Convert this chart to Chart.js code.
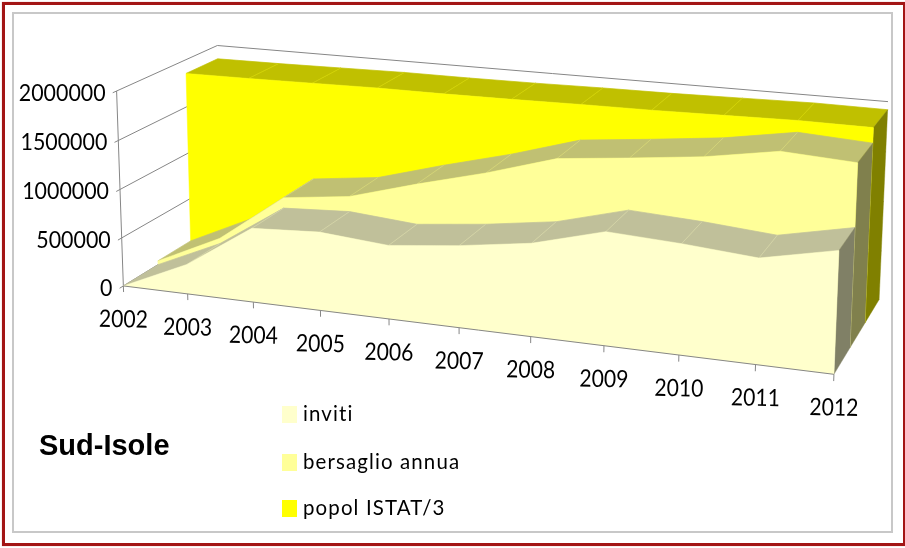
<!DOCTYPE html>
<html><head><meta charset="utf-8">
<style>
html,body{margin:0;padding:0;background:#fff;width:905px;height:548px;overflow:hidden}
#outer{position:absolute;left:2px;top:2px;width:898px;height:538px;border:3px solid #A31515;box-shadow:0 0 1px #d99}
#inner{position:absolute;left:12px;top:12px;width:877px;height:517px;border:2px solid #C8C8C8}
canvas{position:absolute;left:0;top:0}
</style></head>
<body>
<div id="outer"></div><div id="inner"></div>
<canvas id="chart" width="905" height="548"></canvas>
<script src="https://cdn.jsdelivr.net/npm/chart.js@4"></script>
<script>
const years = ['2002','2003','2004','2005','2006','2007','2008','2009','2010','2011','2012'];
const inviti = [0,305000,752000,790000,735000,811000,912000,1101000,1064000,1008000,1158000];
const bersaglio = [40000,360000,860000,945000,1143000,1325000,1536000,1610000,1690000,1810000,1770000];
const popol = [1855000,1860000,1870000,1880000,1880000,1885000,1895000,1900000,1912000,1925000,1920000];
const seriesNames = ['inviti','bersaglio annua','popol ISTAT/3'];
const faceColors = ['#FFFFCC','#FFFF99','#FFFF00'];
const topColors = ['#C0C09A','#C0C073','#C0C000'];
const sideColors = ['#808066','#80804D','#808000'];
const yMax = 2000000;
const chartTitle = 'Sud-Isole';

// Perspective camera of the 3D box: (u, v, w) in 0..1 -> screen
const H = [623.5388147,-9.0901301,117.8506543,123.3532459,49.3232342,-196.7431490,-40.5812351,285.9296553,-0.1043871,-0.0200609,0.0880206];
function project(u,v,w){
  const d = H[8]*u+H[9]*v+H[10]*w+1;
  return [(H[0]*u+H[1]*v+H[2]*w+H[3])/d,(H[4]*u+H[5]*v+H[6]*w+H[7])/d];
}
function poly(ctx,pts,fill,stroke,lw){
  ctx.beginPath();
  pts.forEach((p,i)=>i?ctx.lineTo(p[0],p[1]):ctx.moveTo(p[0],p[1]));
  ctx.closePath();
  ctx.fillStyle=fill;ctx.fill();
  if(stroke){ctx.strokeStyle=stroke;ctx.lineWidth=lw||0.6;ctx.stroke();}
}
function seg(ctx,a,b,color,lw){
  ctx.beginPath();ctx.moveTo(a[0],a[1]);ctx.lineTo(b[0],b[1]);
  ctx.strokeStyle=color;ctx.lineWidth=lw;ctx.stroke();
}
function squeezed(ctx,text,x,y,sx,rot){
  ctx.save();ctx.translate(x,y);if(rot)ctx.rotate(rot);ctx.scale(sx,1);ctx.fillText(text,0,0);ctx.restore();
}
function uOf(sx,i){return (sx.getPixelForValue(i)-sx.left)/sx.width;}
function vOf(sy,val){return (sy.bottom-sy.getPixelForValue(val))/sy.height;}

class Area3DController extends Chart.LineController {
  draw(){
    const meta=this._cachedMeta, ctx=this.chart.ctx, sx=meta.xScale, sy=meta.yScale;
    const ds=this.getDataset(), k=this.index;
    const w0=k/3, w1=(k+1)/3;
    const n=ds.data.length;
    const uv=ds.data.map((val,i)=>[uOf(sx,i),vOf(sy,val)]);
    ctx.save();
    for(let i=0;i<n-1;i++){
      const a=uv[i],b=uv[i+1];
      poly(ctx,[project(a[0],a[1],w0),project(b[0],b[1],w0),project(b[0],b[1],w1),project(a[0],a[1],w1)],topColors[k],topColors[k],0.7);
    }
    ctx.globalAlpha=0.55;
    for(let i=1;i<n-1;i++){
      seg(ctx,project(uv[i][0],uv[i][1],w0),project(uv[i][0],uv[i][1],w1),faceColors[k],0.5);
    }
    ctx.globalAlpha=1;
    const e=uv[n-1];
    poly(ctx,[project(e[0],e[1],w0),project(e[0],e[1],w1),project(e[0],0,w1),project(e[0],0,w0)],sideColors[k],sideColors[k],0.4);
    const face=uv.map(p=>project(p[0],p[1],w0));
    face.push(project(e[0],0,w0),project(uv[0][0],0,w0));
    poly(ctx,face,faceColors[k],faceColors[k],0.5);
    ctx.restore();
  }
}
Area3DController.id='area3d';
Area3DController.defaults=Chart.LineController.defaults;
Chart.register(Area3DController);

const GRID='#868686';
const walls={
  id:'walls',
  beforeDatasetsDraw(chart){
    const ctx=chart.ctx, sy=chart.scales.y;
    ctx.save();
    sy.ticks.forEach(t=>{
      const v=vOf(sy,t.value);
      seg(ctx,project(0,v,-0.035),project(0,v,1),GRID,1);
      seg(ctx,project(0,v,1),project(1,v,1),GRID,1);
    });
    seg(ctx,project(0,0,0),project(0,1,0),GRID,1);
    ctx.restore();
  },
  afterDatasetsDraw(chart){
    const ctx=chart.ctx, sx=chart.scales.x, sy=chart.scales.y;
    ctx.save();
    seg(ctx,project(0,0,0),project(1,0,0),GRID,1);
    years.forEach((y,i)=>{const u=uOf(sx,i);seg(ctx,project(u,0,0),project(u,-0.032,0),GRID,1);});
    ctx.fillStyle='#000';
    ctx.font='23.5px Lato';ctx.textAlign='right';ctx.textBaseline='middle';
    sy.ticks.forEach(t=>{
      const p=project(0,vOf(sy,t.value),0);
      squeezed(ctx,String(t.value),p[0]-11,p[1]+2,0.91);
    });
    ctx.font='24px Lato';ctx.textAlign='center';
    years.forEach((y,i)=>{
      const p=project(uOf(sx,i),0,0);
      squeezed(ctx,y,p[0],p[1]+33.5,0.88,0.02);
    });
    ctx.font='bold 29px "Liberation Sans"';ctx.textAlign='left';ctx.textBaseline='alphabetic';
    ctx.fillText(chartTitle,39,455);
    ctx.font='22px Lato';ctx.textBaseline='middle';
    if('letterSpacing' in ctx) ctx.letterSpacing='1.2px';
    const ys=[406,454,500];
    chart.data.datasets.forEach((d,i)=>{
      ctx.fillStyle=d.backgroundColor;ctx.fillRect(282,ys[i],15,17);
      ctx.fillStyle='#000';squeezed(ctx,d.label,303,ys[i]+8,0.93);
    });
    ctx.restore();
  }
};

new Chart(document.getElementById('chart'),{
  type:'area3d',
  data:{labels:years,datasets:[
    {label:seriesNames[0],data:inviti,backgroundColor:faceColors[0],borderColor:faceColors[0]},
    {label:seriesNames[1],data:bersaglio,backgroundColor:faceColors[1],borderColor:faceColors[1]},
    {label:seriesNames[2],data:popol,backgroundColor:faceColors[2],borderColor:faceColors[2]}
  ]},
  plugins:[walls],
  options:{
    responsive:false,animation:false,
    layout:{padding:0},
    plugins:{legend:{display:false},title:{display:false},tooltip:{enabled:false}},
    scales:{
      x:{type:'category',display:false,offset:false},
      y:{type:'linear',display:false,min:0,max:yMax,ticks:{stepSize:500000}}
    }
  }
});
</script>
</body></html>
